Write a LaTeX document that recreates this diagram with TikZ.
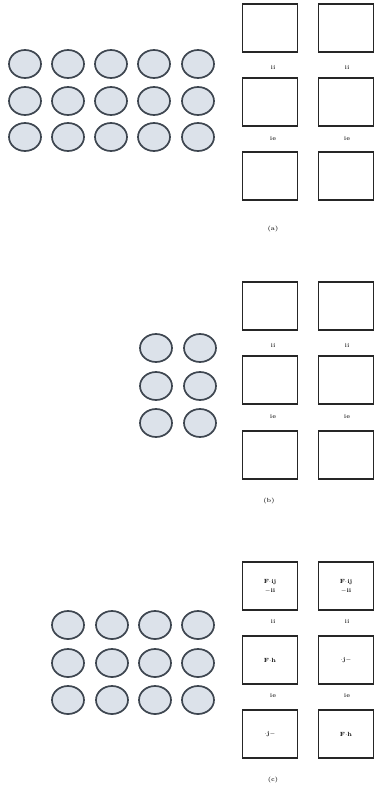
\documentclass[tikz,border=0pt]{standalone}
\usetikzlibrary{shapes.geometric}
\definecolor{dotedge}{HTML}{3E4650}
\definecolor{dotfill}{HTML}{DCE2EA}
\begin{document}
\begin{tikzpicture}[x=1pt,y=-1pt,
  dot/.style={ellipse,draw=dotedge,line width=1.7pt,fill=dotfill,minimum width=32pt,minimum height=28pt,inner sep=0pt},
  box/.style={draw=black!85,line width=1.1pt,fill=white,minimum width=55pt,minimum height=48pt,inner sep=0pt},
  lbl/.style={font=\fontsize{6}{7}\selectfont\bfseries,inner sep=0pt,text=black!80},
  inner/.style={font=\fontsize{6}{7}\selectfont\bfseries,inner sep=0pt,align=center}]
\useasboundingbox (0,0) rectangle (377,787);
% top circles
\foreach \c [count=\i] in {25,68,111,154,198}{
  \foreach \r [count=\j] in {64,101,137}{
    \node[dot] (t\i\j) at (\c,\r) {};
  }}
% top boxes
\node[box] (ta1) at (270,28) {};
\node[box] (ta2) at (346,28) {};
\node[box] (tb1) at (270,102) {};
\node[box] (tb2) at (346,102) {};
\node[box] (tc1) at (270,176) {};
\node[box] (tc2) at (346,176) {};
\node[lbl] (tl1) at (273,67) {ii};
\node[lbl] (tl2) at (347,67) {ii};
\node[lbl] (tl3) at (273,138) {ie};
\node[lbl] (tl4) at (347,138) {ie};
\node[lbl] (tl5) at (273,229) {(a)};
% middle circles
\foreach \c [count=\i] in {156,200}{
  \foreach \r [count=\j] in {348,386,423}{
    \node[dot] (m\i\j) at (\c,\r) {};
  }}
\node[box] (ma1) at (270,306) {};
\node[box] (ma2) at (346,306) {};
\node[box] (mb1) at (270,380) {};
\node[box] (mb2) at (346,380) {};
\node[box] (mc1) at (270,455) {};
\node[box] (mc2) at (346,455) {};
\node[lbl] (ml1) at (273,345) {ii};
\node[lbl] (ml2) at (347,345) {ii};
\node[lbl] (ml3) at (273,416) {ie};
\node[lbl] (ml4) at (347,416) {ie};
\node[lbl] (ml5) at (269,501) {(b)};
% bottom circles
\foreach \c [count=\i] in {68,112,155,198}{
  \foreach \r [count=\j] in {625,663,700}{
    \node[dot] (b\i\j) at (\c,\r) {};
  }}
\node[box] (ba1) at (270,586) {};
\node[inner] (ba1t) at (270,586) {F$\cdot$ij\\[2pt]$-$ii};
\node[box] (ba2) at (346,586) {};
\node[inner] (ba2t) at (346,586) {F$\cdot$ij\\[2pt]$-$ii};
\node[box] (bb1) at (270,660) {}; \node[inner] (bb1t) at (270,660) {F$\cdot$h};
\node[box] (bb2) at (346,660) {}; \node[inner] (bb2t) at (346,660) {$\cdot$j$-$};
\node[box] (bc1) at (270,734) {}; \node[inner] (bc1t) at (270,734) {$\cdot$j$-$};
\node[box] (bc2) at (346,734) {}; \node[inner] (bc2t) at (346,734) {F$\cdot$h};
\node[lbl] (bl1) at (273,621) {ii};
\node[lbl] (bl2) at (347,621) {ii};
\node[lbl] (bl3) at (273,695) {ie};
\node[lbl] (bl4) at (347,695) {ie};
\node[lbl] (bl5) at (273,780) {(c)};
\end{tikzpicture}
\end{document}
